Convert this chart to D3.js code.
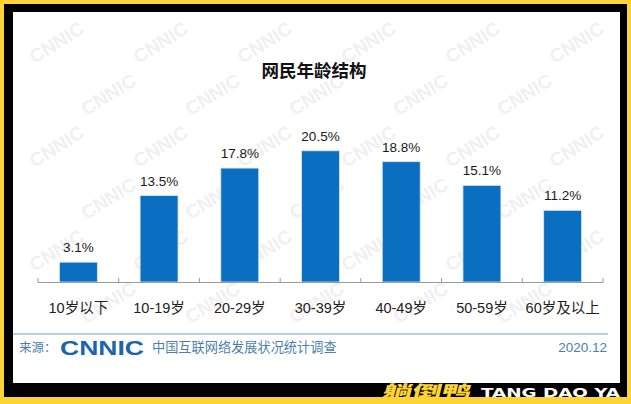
<!DOCTYPE html>
<html>
<head>
<meta charset="utf-8">
<script src="https://cdn.jsdelivr.net/npm/d3@7"></script>
<style>
  body { margin: 0; background: #fcd535; }
  svg { display: block; }
</style>
</head>
<body>
<script>
// data
var categories = ["10岁以下", "10-19岁", "20-29岁", "30-39岁", "40-49岁", "50-59岁", "60岁及以上"];
var shares = [3.1, 13.5, 17.8, 20.5, 18.8, 15.1, 11.2];
var title = "网民年龄结构";
var sourceText = "中国互联网络发展状况统计调查";
var dateText = "2020.12";

var width = 631,
  height = 404;

var numFont = "'Liberation Sans', Arial, 'Noto Sans CJK SC', sans-serif";
var cjkFont = "'Noto Sans CJK SC', 'Liberation Sans', sans-serif";

var svg = d3.select("body").append("svg")
  .attr("width", width)
  .attr("height", height);

// frame: yellow outside, black inner border, white panel
svg.append("rect").attr("width", width).attr("height", height).attr("fill", "#fcd535");
svg.append("rect").attr("x", 4).attr("y", 4).attr("width", 623).attr("height", 393).attr("fill", "#000");
svg.append("rect").attr("x", 13).attr("y", 12).attr("width", 607).attr("height", 371).attr("fill", "#fff");

// faint CNNIC watermark tiles (kept inside the white panel)
var wm = svg.append("g").attr("fill", "#f0f0f0").style("font-family", numFont)
  .style("font-weight", "bold").style("font-size", "19px");
for (var row = 0; row < 6; row++) {
  for (var col = 0; col < 6; col++) {
    var wx = 60 + col * 104 + (row % 2) * 52,
      wy = 48 + row * 52;
    if (wx > 580 || wy > 320) continue;
    wm.append("text")
      .attr("transform", "translate(" + wx + "," + wy + ") rotate(-32)")
      .attr("text-anchor", "middle")
      .text("CNNIC");
  }
}

// title
svg.append("text")
  .attr("x", 314)
  .attr("y", 77)
  .attr("text-anchor", "middle")
  .style("font-family", cjkFont)
  .style("font-weight", "bold")
  .style("font-size", "17.5px")
  .attr("fill", "#111")
  .text(title);

var x = d3.scaleBand()
  .domain(categories)
  .range([38, 603])
  .paddingInner(0.53)
  .paddingOuter(0.265);

var y = d3.scaleLinear()
  .domain([0, 25])
  .range([282, 122]);

// bars
svg.append("g").selectAll("rect")
  .data(shares)
  .enter().append("rect")
  .attr("x", function (d, i) { return x(categories[i]); })
  .attr("y", function (d) { return y(d); })
  .attr("width", x.bandwidth())
  .attr("height", function (d) { return y(0) - y(d); })
  .attr("fill", "#0b6fc1")
  .attr("stroke", "#d8e6f3")
  .attr("stroke-width", 0.8);

// value labels
svg.append("g").selectAll("text")
  .data(shares)
  .enter().append("text")
  .attr("x", function (d, i) { return x(categories[i]) + x.bandwidth() / 2; })
  .attr("y", function (d) { return y(d) - 10; })
  .attr("text-anchor", "middle")
  .style("font-family", numFont)
  .style("font-size", "13.5px")
  .attr("fill", "#1a1a1a")
  .text(function (d) { return d.toFixed(1) + "%"; });

// category axis
var axisG = svg.append("g");
axisG.append("line")
  .attr("x1", 38).attr("x2", 603)
  .attr("y1", y(0) + 0.5).attr("y2", y(0) + 0.5)
  .attr("stroke", "#9a9a9a").attr("stroke-width", 1.2);

var step = x.step();
axisG.selectAll("line.tick")
  .data(d3.range(categories.length + 1))
  .enter().append("line")
  .attr("class", "tick")
  .attr("x1", function (i) { return 38 + i * step; })
  .attr("x2", function (i) { return 38 + i * step; })
  .attr("y1", y(0) - 4)
  .attr("y2", y(0) + 0.5)
  .attr("stroke", "#9a9a9a");

axisG.selectAll("text")
  .data(categories)
  .enter().append("text")
  .attr("x", function (d) { return x(d) + x.bandwidth() / 2; })
  .attr("y", 313)
  .attr("text-anchor", "middle")
  .style("font-family", numFont)
  .style("font-size", "14.5px")
  .attr("fill", "#222")
  .text(function (d) { return d; });

// footer
svg.append("line")
  .attr("x1", 13).attr("x2", 608)
  .attr("y1", 334).attr("y2", 334)
  .attr("stroke", "#a9bdd3").attr("stroke-width", 1.5);

svg.append("text")
  .attr("x", 19).attr("y", 352)
  .style("font-family", cjkFont).style("font-size", "12.5px")
  .attr("fill", "#4d7fae")
  .text("来源：");

svg.append("text")
  .attr("x", 60).attr("y", 354.5)
  .attr("textLength", 84).attr("lengthAdjust", "spacingAndGlyphs")
  .style("font-family", numFont).style("font-weight", "bold").style("font-size", "21px")
  .attr("fill", "#1b65a9")
  .text("CNNIC");

svg.append("text")
  .attr("x", 152).attr("y", 352)
  .style("font-family", cjkFont).style("font-size", "13.2px")
  .attr("fill", "#4d7fae")
  .text(sourceText);

svg.append("text")
  .attr("x", 607).attr("y", 352)
  .attr("text-anchor", "end")
  .style("font-family", numFont).style("font-size", "13.5px")
  .attr("fill", "#4d7fae")
  .text(dateText);

// brand strip
svg.append("text")
  .attr("transform", "translate(382,397) skewX(-14)")
  .attr("textLength", 88).attr("lengthAdjust", "spacingAndGlyphs")
  .style("font-family", cjkFont).style("font-weight", "900").style("font-size", "16px")
  .attr("fill", "#fcd535")
  .text("躺倒鸭");

svg.append("text")
  .attr("x", 481).attr("y", 397)
  .attr("textLength", 139).attr("lengthAdjust", "spacingAndGlyphs")
  .style("font-family", "'DejaVu Sans', sans-serif").style("font-weight", "bold").style("font-size", "12.5px")
  .attr("fill", "#fff")
  .text("TANG DAO YA");
</script>
</body>
</html>
